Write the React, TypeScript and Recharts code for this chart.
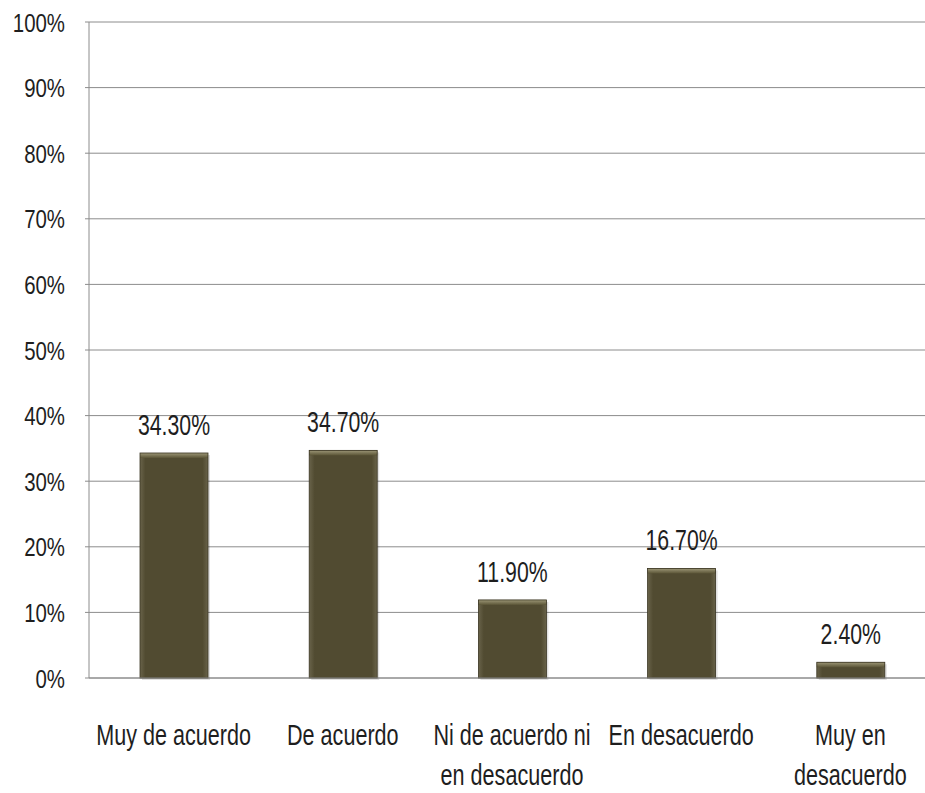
import { Bar, BarChart, CartesianGrid, LabelList, XAxis, YAxis } from "recharts"

const categories = [
  "Muy de acuerdo",
  "De acuerdo",
  "Ni de acuerdo ni\nen desacuerdo",
  "En desacuerdo",
  "Muy en\ndesacuerdo",
]
const values = [34.3, 34.7, 11.9, 16.7, 2.4]
const yTicks = [0, 10, 20, 30, 40, 50, 60, 70, 80, 90, 100]

const data = categories.map((name, i) => ({ name, value: values[i] }))

// no narrow font available, so squeeze a regular sans horizontally
const font = "'Liberation Sans', Arial, sans-serif"
const ink = "#1e1e1e"

function CategoryTick({ x, y, payload }: any) {
  const lines = String(payload.value).split("\n")
  return (
    <g transform={`translate(${x} ${y}) scale(0.72 1)`}>
      {lines.map((line, i) => (
        <text key={i} x={0} y={67 + i * 40} textAnchor="middle" fill={ink} fontSize={30} fontFamily={font}>
          {line}
        </text>
      ))}
    </g>
  )
}

function PercentTick({ x, y, payload }: any) {
  return (
    <text
      transform={`translate(${x} ${y}) scale(0.77 1)`}
      x={0}
      y={0}
      dy="0.36em"
      textAnchor="end"
      fill={ink}
      fontSize={26.5}
      fontFamily={font}
    >
      {`${payload.value}%`}
    </text>
  )
}

function BevelBar({ x, y, width, height }: any) {
  if (!height || height <= 0) return null
  const bevel = Math.min(5, height / 2)
  return (
    <g>
      <rect x={x + 2} y={y + 2} width={width} height={height} fill="#000" opacity={0.12} />
      <rect x={x} y={y} width={width} height={height} fill="url(#barBody)" />
      <rect x={x} y={y} width={width} height={bevel} fill="url(#barTop)" />
      <rect x={x} y={y} width={width} height={height} fill="none" stroke="#3a3522" strokeWidth={0.8} />
    </g>
  )
}

function ValueLabel({ x, y, width, value }: any) {
  return (
    <text
      transform={`translate(${x + width / 2} ${y - 18}) scale(0.71 1)`}
      x={0}
      y={0}
      textAnchor="middle"
      fill={ink}
      fontSize={30}
      fontFamily={font}
    >
      {`${Number(value).toFixed(2)}%`}
    </text>
  )
}

export default function App() {
  return (
    <div
      style={{
        position: "fixed",
        left: 0,
        top: 0,
        width: 925,
        height: 793,
        overflow: "hidden",
        background: "#fff",
      }}
    >
      <BarChart
        width={935}
        height={793}
        data={data}
        margin={{ top: 22, right: 0, left: 0, bottom: 0 }}
      >
        <defs>
          <linearGradient id="barBody" x1="0" y1="0" x2="1" y2="0">
            <stop offset="0%" stopColor="#69634a" />
            <stop offset="8%" stopColor="#514b31" />
            <stop offset="92%" stopColor="#514b31" />
            <stop offset="100%" stopColor="#69634a" />
          </linearGradient>
          <linearGradient id="barTop" x1="0" y1="0" x2="0" y2="1">
            <stop offset="0%" stopColor="#9c9676" />
            <stop offset="100%" stopColor="#5b5537" />
          </linearGradient>
        </defs>
        <CartesianGrid vertical={false} stroke="#8c8c8c" strokeWidth={1} />
        <XAxis
          dataKey="name"
          height={115}
          interval={0}
          tickLine={false}
          tickSize={0}
          tickMargin={0}
          axisLine={{ stroke: "#8c8c8c" }}
          tick={<CategoryTick />}
        />
        <YAxis
          domain={[0, 100]}
          ticks={yTicks}
          width={89}
          tickSize={4}
          tickMargin={20}
          interval={0}
          axisLine={{ stroke: "#8c8c8c" }}
          tickLine={{ stroke: "#8c8c8c" }}
          tick={<PercentTick />}
        />
        <Bar dataKey="value" barSize={68} shape={<BevelBar />} isAnimationActive={false}>
          <LabelList dataKey="value" content={<ValueLabel />} />
        </Bar>
      </BarChart>
    </div>
  )
}
